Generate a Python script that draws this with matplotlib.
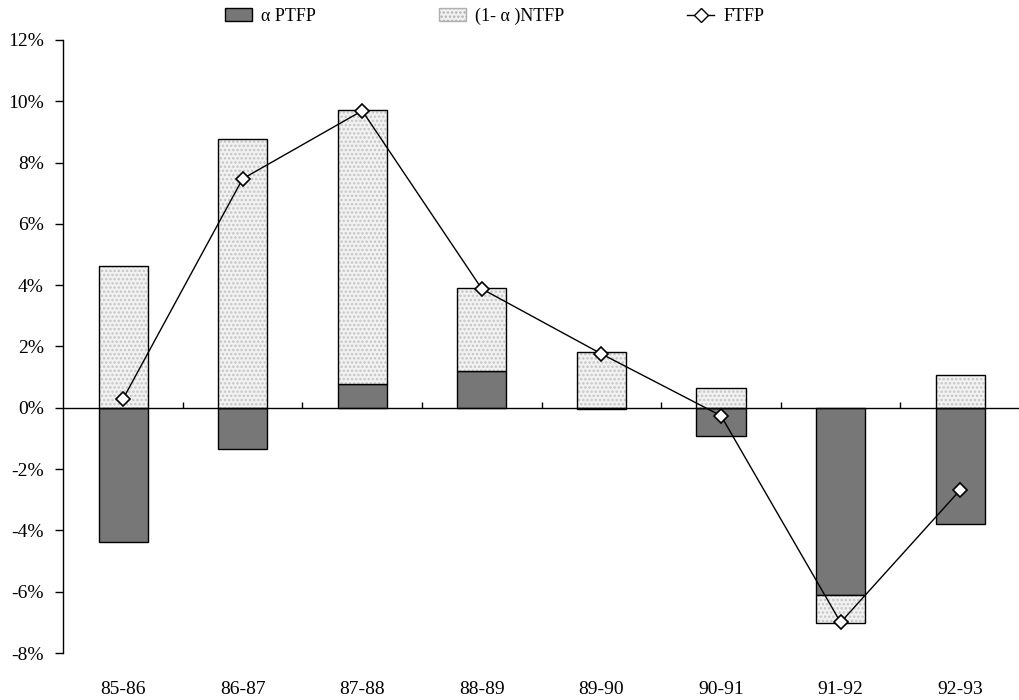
import numpy as np
import matplotlib.pyplot as plt
from matplotlib.lines import Line2D
from matplotlib.patches import Patch

plt.rcParams['font.family'] = ['Liberation Serif', 'DejaVu Serif']
plt.rcParams['hatch.linewidth'] = 1.2

periods = ["85-86", "86-87", "87-88", "88-89", "89-90", "90-91", "91-92", "92-93"]
ptfp = [-4.37, -1.34, 0.78, 1.21, -0.05, -0.91, -6.10, -3.78]   # alpha*PTFP (%)
ntfp = [4.63, 8.78, 8.94, 2.71, 1.81, 0.65, -0.91, 1.08]       # (1-alpha)*NTFP (%)
ftfp = [0.29, 7.47, 9.69, 3.88, 1.76, -0.26, -7.00, -2.68]     # FTFP (%)
yticks = [-8, -6, -4, -2, 0, 2, 4, 6, 8, 10, 12]

x = np.arange(len(periods))
ptfp = np.array(ptfp)
ntfp = np.array(ntfp)

# excel style stacking: positives on positives, negatives on negatives
bottom_n = np.where(np.sign(ntfp) == np.sign(ptfp), ptfp, 0)

fig = plt.figure(figsize=(10.2, 7), dpi=100)
ax = fig.add_axes([0.062, 0.067, 0.938, 0.876])

w = 0.41
ax.bar(x, ptfp, w, color="#777777", edgecolor="black", linewidth=1, zorder=2)
ax.bar(x, ntfp, w, bottom=bottom_n, color="#f2f2f2", edgecolor="#c4c4c4",
       hatch="....", linewidth=0, zorder=2)
ax.bar(x, ntfp, w, bottom=bottom_n, fill=False, edgecolor="black", linewidth=1, zorder=3)

ax.plot(x, ftfp, color="black", linewidth=1, marker="D", markersize=7,
        markerfacecolor="white", markeredgecolor="black", markeredgewidth=1.2, zorder=5)

# zero line with category boundary ticks
ax.axhline(0, color="black", linewidth=1, zorder=4)
ax.vlines(x[:-1] + 0.5, 0, 0.2, color="black", linewidth=1, zorder=4)

ax.set_xlim(-0.5, len(periods) - 0.5)
ax.set_ylim(-8, 12)
ax.set_yticks(yticks)
ax.set_yticklabels([f"{v}%" for v in yticks], fontsize=14)
ax.set_xticks(x)
ax.set_xticklabels(periods, fontsize=14)
ax.tick_params(axis="x", length=0, pad=20)
ax.tick_params(axis="y", length=6, width=1, direction="out", pad=8)

for s in ["top", "right", "bottom"]:
    ax.spines[s].set_visible(False)
ax.spines["left"].set_linewidth(1)

handles = [
    Patch(facecolor="#777777", edgecolor="black", linewidth=1),
    Patch(facecolor="#f2f2f2", edgecolor="#b0b0b0", hatch="....", linewidth=1),
    Line2D([0], [0], color="black", linewidth=1, marker="D", markersize=7,
           markerfacecolor="white", markeredgecolor="black"),
]
labels = ["α PTFP", "(1- α )NTFP", "FTFP"]
fig.legend(handles, labels, loc="upper center", bbox_to_anchor=(0.485, 1.012), ncol=3,
           frameon=False, fontsize=13, columnspacing=6.8, handlelength=1.5,
           handletextpad=0.5)

fig.savefig("out.png", dpi=100)
